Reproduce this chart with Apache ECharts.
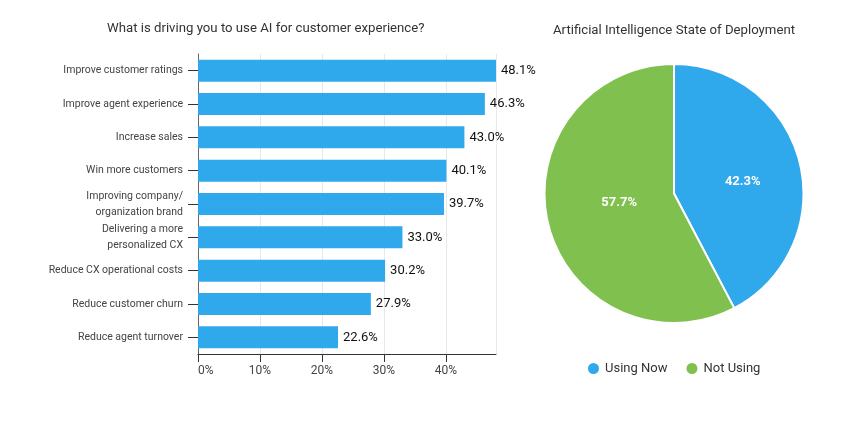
<!DOCTYPE html>
<html>
<head>
<meta charset="utf-8">
<script src="https://cdn.jsdelivr.net/npm/echarts@6/dist/echarts.min.js"></script>
<style>
  html, body { margin: 0; padding: 0; background: #fff; }
  #chart { width: 850px; height: 425px; }
</style>
</head>
<body>
<div id="chart"></div>
<script>
const drivers = [
  'Improve customer ratings',
  'Improve agent experience',
  'Increase sales',
  'Win more customers',
  'Improving company/\norganization brand',
  'Delivering a more\npersonalized CX',
  'Reduce CX operational costs',
  'Reduce customer churn',
  'Reduce agent turnover',
]
const driverValues = [48.1, 46.3, 43.0, 40.1, 39.7, 33.0, 30.2, 27.9, 22.6]

const deployNames = ['Using Now', 'Not Using']
const deployValues = [42.3, 57.7]

const BLUE = '#2fa9ec'
const GREEN = '#7fc04f'
const FONT = 'Roboto'

const chart = echarts.init(document.getElementById('chart'))
chart.setOption({
  animation: false,
  backgroundColor: '#fff',
  textStyle: { fontFamily: FONT },
  title: [
    {
      text: 'What is driving you to use AI for customer experience?',
      left: 102, top: 17,
      textStyle: { fontSize: 13.2, fontWeight: 'normal', color: '#333', fontFamily: FONT },
    },
    {
      text: 'Artificial Intelligence State of Deployment',
      left: 548, top: 19,
      textStyle: { fontSize: 13.2, fontWeight: 'normal', color: '#333', fontFamily: FONT },
    },
  ],
  legend: {
    data: deployNames,
    left: 581, top: 356,
    icon: 'circle',
    itemWidth: 13, itemHeight: 13, itemGap: 17,
    textStyle: { fontSize: 13, color: '#333', fontFamily: FONT },
  },
  grid: { left: 198, top: 54, width: 298, height: 300 },
  xAxis: {
    type: 'value',
    min: 0, max: 48.1, interval: 10,
    axisLine: { show: true, lineStyle: { color: '#333', width: 1 } },
    axisTick: { show: true, length: 8, lineStyle: { color: '#333' } },
    axisLabel: {
      formatter: '{value}%', fontSize: 12, color: '#444', margin: 11,
      alignMinLabel: 'left', showMaxLabel: false, fontFamily: FONT,
    },
    splitLine: { show: true, lineStyle: { color: '#e8e8e8' } },
  },
  yAxis: {
    type: 'category',
    inverse: true,
    data: drivers,
    axisLine: { show: true, lineStyle: { color: '#666', width: 1 } },
    axisTick: { show: true, alignWithLabel: true, length: 10, lineStyle: { color: '#333' } },
    axisLabel: { fontSize: 10.5, color: '#444', margin: 15, lineHeight: 16, padding: [4, 0, 0, 0], fontFamily: FONT },
  },
  series: [
    {
      type: 'bar',
      data: driverValues,
      barWidth: 22,
      itemStyle: { color: BLUE },
      label: {
        show: true, position: 'right', distance: 5,
        formatter: (p) => p.value.toFixed(1) + '%',
        fontSize: 13, color: '#111', fontFamily: FONT,
      },
    },
    {
      type: 'pie',
      center: [674, 193.5],
      radius: [0, 129.5],
      startAngle: 90,
      clockwise: true,
      data: deployNames.map((name, i) => ({
        name, value: deployValues[i],
        itemStyle: { color: i === 0 ? BLUE : GREEN },
      })),
      itemStyle: { borderColor: '#fff', borderWidth: 2 },
      label: {
        show: true, position: 'inside',
        formatter: (p) => p.value.toFixed(1) + '%',
        fontSize: 13, fontWeight: 'bold', color: '#fff', fontFamily: FONT,
      },
      labelLine: { show: false },
      labelLayout: (p) => (p.dataIndex === 0 ? { dx: 3, dy: 4 } : { dx: 11, dy: -7 }),
    },
  ],
})
</script>
</body>
</html>
